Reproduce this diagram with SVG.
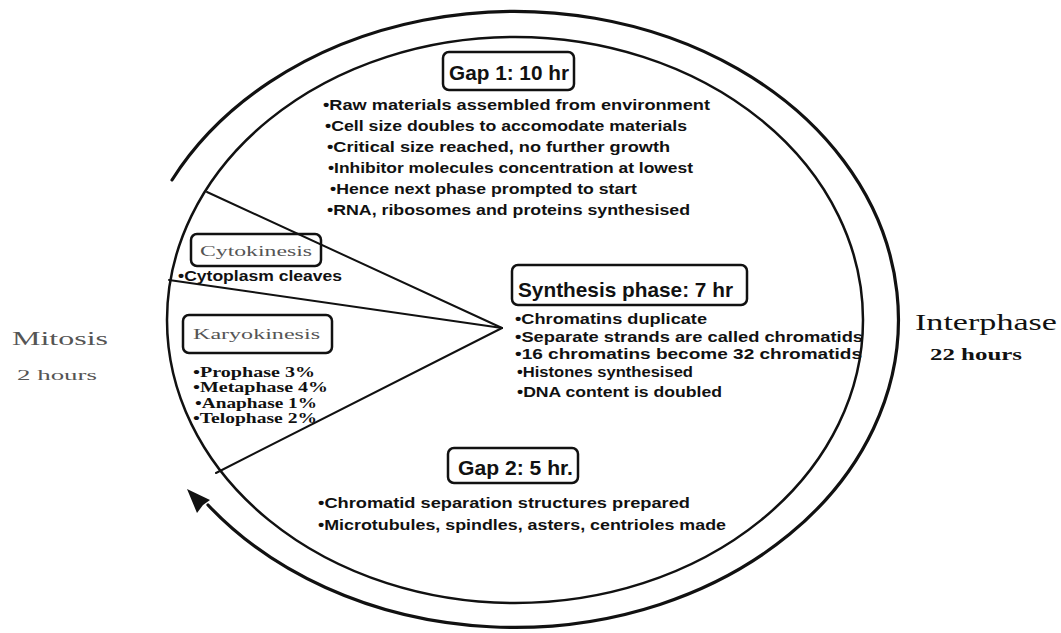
<svg xmlns="http://www.w3.org/2000/svg" width="1061" height="633" viewBox="0 0 1061 633">
<style>
.bg{fill:#fff}
.ln{fill:none;stroke:#111;stroke-linecap:round}
.box{fill:none;stroke:#111;stroke-width:2.5}
.ttl{font-family:"Liberation Sans","DejaVu Sans",sans-serif;font-weight:bold;fill:#111}
.bul{font-family:"Liberation Sans","DejaVu Sans",sans-serif;font-weight:bold;font-size:15px;fill:#111}
.ser{font-family:"Liberation Serif","DejaVu Serif",serif;fill:#111}
.faint{fill:#555}
</style>
<rect class="bg" x="0" y="0" width="1061" height="633"/>
<g id="connectors">
  <ellipse class="ln" cx="515" cy="320" rx="348" ry="283" stroke-width="2.5"/>
  <path class="ln" stroke-width="3.2" d="M172,180 A384,308 0 1 1 208,505"/>
  <polygon fill="#111" points="187,489 210,500 203,505 197,513"/>
  <line class="ln" stroke-width="2" x1="207" y1="192" x2="502" y2="328"/>
  <line class="ln" stroke-width="2" x1="169" y1="280" x2="502" y2="328"/>
  <line class="ln" stroke-width="2" x1="216" y1="473" x2="502" y2="328"/>
</g>
<g id="gap1">
  <rect class="box" x="443" y="52" width="131" height="38" rx="6"/>
  <text class="ttl" x="449" y="80" font-size="21" textLength="120" lengthAdjust="spacingAndGlyphs">Gap 1: 10 hr</text>
  <text class="bul" x="323" y="110" textLength="387" lengthAdjust="spacingAndGlyphs">•Raw materials assembled from environment</text>
  <text class="bul" x="325" y="131" textLength="362" lengthAdjust="spacingAndGlyphs">•Cell size doubles to accomodate materials</text>
  <text class="bul" x="327" y="152" textLength="343" lengthAdjust="spacingAndGlyphs">•Critical size reached, no further growth</text>
  <text class="bul" x="328" y="173" textLength="365" lengthAdjust="spacingAndGlyphs">•Inhibitor molecules concentration at lowest</text>
  <text class="bul" x="330" y="194" textLength="307" lengthAdjust="spacingAndGlyphs">•Hence next phase prompted to start</text>
  <text class="bul" x="327" y="215" textLength="363" lengthAdjust="spacingAndGlyphs">•RNA, ribosomes and proteins  synthesised</text>
</g>
<g id="synthesis">
  <rect class="box" x="512" y="265" width="235" height="40" rx="6"/>
  <text class="ttl" x="518" y="297" font-size="21" textLength="215" lengthAdjust="spacingAndGlyphs">Synthesis phase: 7 hr</text>
  <text class="bul" x="515" y="324" textLength="192" lengthAdjust="spacingAndGlyphs">•Chromatins  duplicate</text>
  <text class="bul" x="515" y="342" textLength="348" lengthAdjust="spacingAndGlyphs">•Separate strands are called chromatids</text>
  <text class="bul" x="515" y="359" textLength="347" lengthAdjust="spacingAndGlyphs">•16 chromatins become 32 chromatids</text>
  <text class="bul" x="517" y="377" textLength="176" lengthAdjust="spacingAndGlyphs">•Histones synthesised</text>
  <text class="bul" x="517" y="397" textLength="205" lengthAdjust="spacingAndGlyphs">•DNA content is doubled</text>
</g>
<g id="gap2">
  <rect class="box" x="448" y="448" width="130" height="35" rx="6"/>
  <text class="ttl" x="458" y="475" font-size="20" textLength="115" lengthAdjust="spacingAndGlyphs">Gap 2: 5 hr.</text>
  <text class="bul" x="318" y="508" textLength="372" lengthAdjust="spacingAndGlyphs">•Chromatid separation structures prepared</text>
  <text class="bul" x="318" y="530" textLength="408" lengthAdjust="spacingAndGlyphs">•Microtubules, spindles, asters, centrioles made</text>
</g>
<g id="cytokinesis">
  <rect class="box" x="191" y="234" width="130" height="32" rx="6"/>
  <text class="ser faint" x="200" y="256" font-size="15" textLength="112" lengthAdjust="spacingAndGlyphs">Cytokinesis</text>
  <text class="bul" x="178" y="281" textLength="164" lengthAdjust="spacingAndGlyphs">•Cytoplasm cleaves</text>
</g>
<g id="karyokinesis">
  <rect class="box" x="183" y="315" width="149" height="38" rx="6"/>
  <text class="ser faint" x="193" y="339" font-size="15" textLength="127" lengthAdjust="spacingAndGlyphs">Karyokinesis</text>
  <text class="ser" font-weight="bold" x="193" y="377" font-size="15" textLength="122" lengthAdjust="spacingAndGlyphs">•Prophase 3%</text>
  <text class="ser" font-weight="bold" x="193" y="392" font-size="15" textLength="135" lengthAdjust="spacingAndGlyphs">•Metaphase 4%</text>
  <text class="ser" font-weight="bold" x="195" y="408" font-size="15" textLength="122" lengthAdjust="spacingAndGlyphs">•Anaphase 1%</text>
  <text class="ser" font-weight="bold" x="193" y="423" font-size="15" textLength="124" lengthAdjust="spacingAndGlyphs">•Telophase 2%</text>
</g>
<g id="mitosis">
  <text class="ser faint" x="12" y="345" font-size="19" textLength="96" lengthAdjust="spacingAndGlyphs">Mitosis</text>
  <text class="ser faint" x="17" y="380" font-size="15" textLength="80" lengthAdjust="spacingAndGlyphs">2 hours</text>
</g>
<g id="interphase">
  <text class="ser" x="915" y="330" font-size="23" textLength="142" lengthAdjust="spacingAndGlyphs">Interphase</text>
  <text class="ser" font-weight="bold" x="930" y="360" font-size="17" textLength="92" lengthAdjust="spacingAndGlyphs">22 hours</text>
</g>
</svg>
